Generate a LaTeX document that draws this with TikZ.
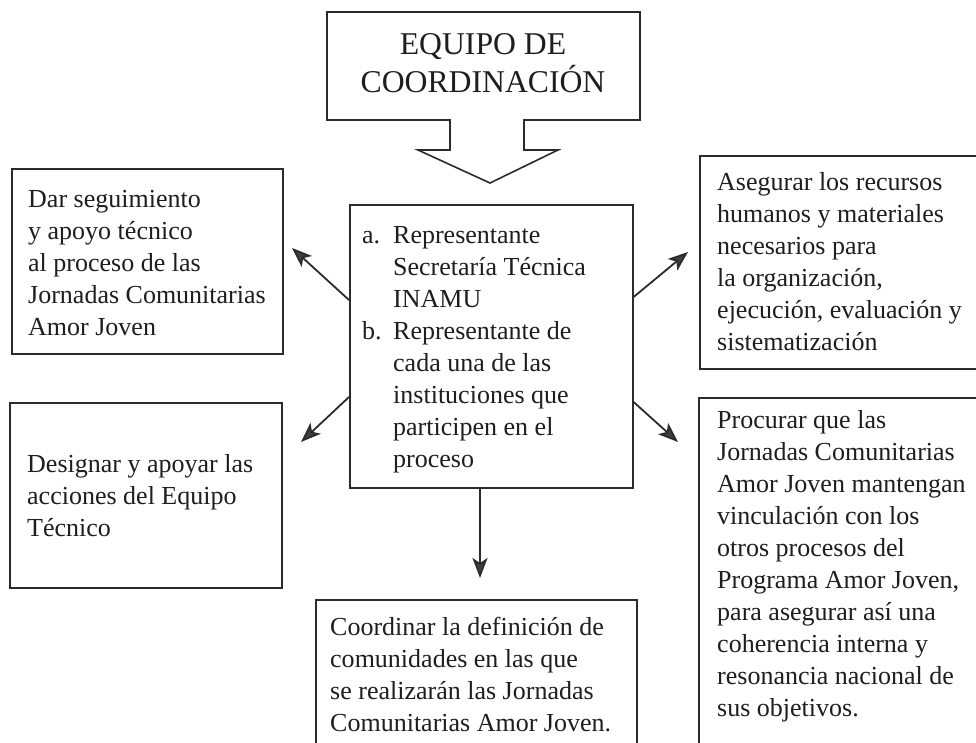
\documentclass[tikz,border=0pt]{standalone}
\usepackage{fontspec}
\setmainfont{Liberation Serif}
\usetikzlibrary{arrows.meta}
\definecolor{ink}{HTML}{2B2B2B}
\definecolor{txt}{HTML}{1E1E1E}
\definecolor{tipfill}{HTML}{404040}
\tikzset{
  boxline/.style={draw=ink, line width=1.6pt, inner sep=0pt, anchor=north west},
  body/.style={text=txt, font=\fontsize{26}{32}\selectfont, align=left, inner sep=0pt, anchor=base west},
  arr/.style={draw=ink, line width=1.8pt, -{Stealth[length=20pt,width=15pt,inset=5pt,fill=tipfill]}},
}
\begin{document}
\begin{tikzpicture}[x=1pt,y=-1pt]
\useasboundingbox (0,0) rectangle (976,743);
\fill[white] (0,0) rectangle (976,743);
\clip (0,0) rectangle (976,743);
% top block-arrow box
\draw[draw=ink, line width=1.6pt, line join=miter]
  (327,12) -- (640,12) -- (640,120) -- (524,120) -- (524,150) -- (558,150)
  -- (490,183) -- (418,150) -- (450,150) -- (450,120) -- (327,120) -- cycle;
\node[text=txt, font=\fontsize{31.7}{38}\selectfont, align=center, inner sep=0pt, anchor=base] (title) at (483,93) {EQUIPO DE\\COORDINACIÓN};
% boxes
\node[boxline, minimum width=271pt, minimum height=185pt] (lt) at (11,168) {};
\node[boxline, minimum width=272pt, minimum height=185pt] (lb) at (9,402) {};
\node[boxline, minimum width=283pt, minimum height=283pt] (cb) at (349,204) {};
\node[boxline, minimum width=320pt, minimum height=213pt] (rt) at (699,155) {};
\node[boxline, minimum width=320pt, minimum height=400pt] (rb) at (698,397) {};
\node[boxline, minimum width=321pt, minimum height=200pt] (bb) at (315,599) {};
% texts (anchored at the baseline of their last line)
\node[body] (ltt) at (28,335) {Dar seguimiento\\y apoyo técnico\\al proceso de las\\Jornadas Comunitarias\\Amor Joven};
\node[body] (lbt) at (27,536) {Designar y apoyar las\\acciones del Equipo\\Técnico};
\node[body] (cbt) at (362,467) {\makebox[31pt][l]{a.}Representante\\\hspace*{31pt}Secretaría Técnica\\\hspace*{31pt}INAMU\\\makebox[31pt][l]{b.}Representante de\\\hspace*{31pt}cada una de las\\\hspace*{31pt}instituciones que\\\hspace*{31pt}participen en el\\\hspace*{31pt}proceso};
\node[body] (rtt) at (717,350) {Asegurar los recursos\\humanos y materiales\\necesarios para\\la organización,\\ejecución, evaluación y\\sistematización};
\node[body] (rbt) at (717,716) {Procurar que las\\Jornadas Comunitarias\\Amor Joven mantengan\\vinculación con los\\otros procesos del\\Programa Amor Joven,\\para asegurar así una\\coherencia interna y\\resonancia nacional de\\sus objetivos.};
\node[body] (bbt) at (330,731) {Coordinar la definición de\\comunidades en las que\\se realizarán las Jornadas\\Comunitarias Amor Joven.};
% arrow end points
\coordinate (tl) at (292,248);
\coordinate (bl) at (301,442);
\coordinate (tr) at (688,252);
\coordinate (br) at (678,442);
\coordinate (dn) at (480,578);
\draw[arr] ([yshift=-96pt]cb.north west) -- (tl);
\draw[arr] ([yshift=-193pt]cb.north west) -- (bl);
\draw[arr] ([yshift=-93pt]cb.north east) -- (tr);
\draw[arr] ([yshift=-198pt]cb.north east) -- (br);
\draw[arr] (cb.south -| dn) -- (dn);
\end{tikzpicture}
\end{document}
